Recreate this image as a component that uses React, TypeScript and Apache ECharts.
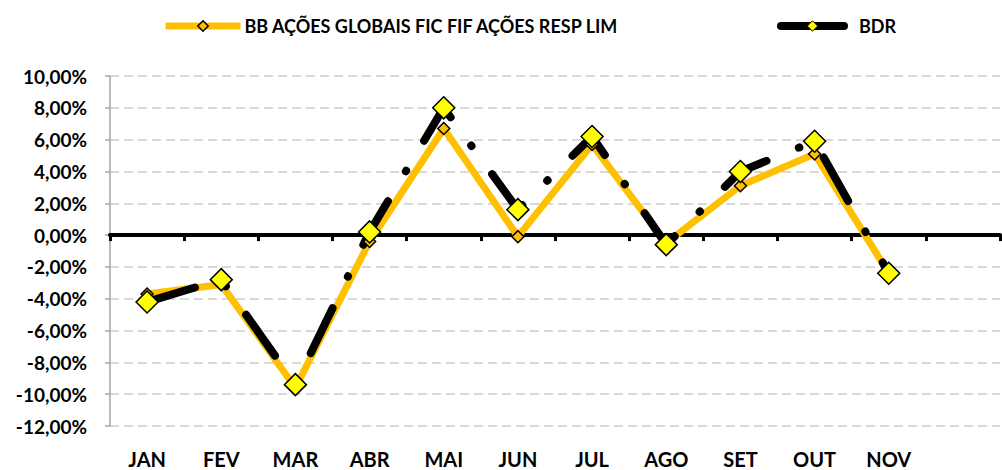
import React, { useEffect, useRef } from "react";
import * as echarts from "echarts";

const categories = ["JAN", "FEV", "MAR", "ABR", "MAI", "JUN", "JUL", "AGO", "SET", "OUT", "NOV", ""];
const bbValues = [-3.7, -3.1, -9.6, -0.4, 6.7, -0.1, 5.7, -0.5, 3.1, 5.1, -2.4];
const bdrValues = [-4.2, -2.8, -9.4, 0.2, 8.0, 1.6, 6.2, -0.6, 4.0, 5.9, -2.4];
const seriesNames = ["BB AÇÕES GLOBAIS FIC FIF AÇÕES RESP LIM", "BDR"];

const FONT = "Lato";

export default function App() {
  const ref = useRef<HTMLDivElement>(null);
  useEffect(() => {
    const chart = echarts.init(ref.current!, null, { renderer: "svg" });
    const fmt = (v: number) => v.toFixed(2).replace(".", ",") + "%";
    chart.setOption({
      animation: false,
      backgroundColor: "#fff",
      textStyle: { fontFamily: FONT },
      legend: [
        {
          data: [
            {
              name: seriesNames[0],
              itemStyle: { color: "#FFC000", borderColor: "#000", borderWidth: 1.5 },
              lineStyle: { type: "solid", color: "#FFC000", width: 7 },
            },
          ],
          left: 157,
          top: 12,
          itemWidth: 75,
          itemHeight: 13,
          textStyle: { fontFamily: FONT, fontWeight: "bold", fontSize: 18, color: "#000", padding: [0, 0, 0, -1] },
        },
        {
          data: [
            {
              name: seriesNames[1],
              itemStyle: { color: "#FFFF00", borderColor: "#000", borderWidth: 1 },
              lineStyle: { type: "solid", color: "#000", width: 8 },
            },
          ],
          left: 772,
          top: 12,
          itemWidth: 63,
          itemHeight: 13,
          textStyle: { fontFamily: FONT, fontWeight: "bold", fontSize: 18, color: "#000", padding: [0, 0, 0, 10] },
        },
      ],
      grid: { left: 110, right: 2, top: 76, bottom: 44, containLabel: false },
      xAxis: [
        {
          type: "category",
          data: categories,
          position: "bottom",
          axisLine: { show: false, onZero: false },
          axisTick: { show: false },
          axisLabel: {
            fontFamily: FONT,
            fontWeight: "bold",
            fontSize: 20,
            color: "#000",
            margin: 23,
            interval: 0,
          },
        },
        {
          type: "category",
          data: categories,
          position: "bottom",
          axisLine: { show: true, onZero: true, lineStyle: { color: "#000", width: 4 } },
          axisTick: { show: true, length: 6, lineStyle: { color: "#000", width: 3 } },
          axisLabel: { show: false },
          splitLine: { show: false },
          z: 1,
        },
      ],
      yAxis: {
        type: "value",
        min: -12,
        max: 10,
        interval: 2,
        axisLine: { show: true, lineStyle: { color: "#a6a6a6", width: 1.5 } },
        axisTick: { show: true, length: 5, lineStyle: { color: "#a6a6a6", width: 1.5 } },
        axisLabel: {
          formatter: fmt,
          fontFamily: FONT,
          fontWeight: "bold",
          fontSize: 19,
          color: "#000",
          margin: 23,
        },
        splitLine: { show: true, lineStyle: { color: "#d9d9d9", width: 2, type: [9, 5] } },
      },
      series: [
        {
          name: seriesNames[0],
          type: "line",
          data: bbValues,
          xAxisIndex: 0,
          symbol: "diamond",
          symbolSize: 12,
          showSymbol: false,
          itemStyle: { color: "#FFC000", borderColor: "#000", borderWidth: 1.5 },
          lineStyle: { color: "#FFC000", width: 7 },
          z: 3,
        },
        {
          name: seriesNames[1],
          type: "line",
          data: bdrValues,
          xAxisIndex: 0,
          symbol: "diamond",
          symbolSize: 22,
          showSymbol: false,
          itemStyle: { color: "#FFFF00", borderColor: "#000", borderWidth: 1.5 },
          lineStyle: { color: "#000", width: 8, type: [50, 35, 0.5, 35], cap: "round" },
          z: 3,
        },
        {
          name: "bbMarkers",
          type: "scatter",
          data: bbValues,
          xAxisIndex: 0,
          symbol: "diamond",
          symbolSize: 12,
          itemStyle: { color: "#FFC000", borderColor: "#000", borderWidth: 1.5, opacity: 1 },
          z: 4,
        },
        {
          name: "bdrMarkers",
          type: "scatter",
          data: bdrValues,
          xAxisIndex: 0,
          symbol: "diamond",
          symbolSize: 22,
          itemStyle: { color: "#FFFF00", borderColor: "#000", borderWidth: 1.5, opacity: 1 },
          z: 4,
        },
      ],
    });
    return () => chart.dispose();
  }, []);
  return <div ref={ref} style={{ width: 1002, height: 470, position: "absolute", left: 0, top: 0 }} />;
}
